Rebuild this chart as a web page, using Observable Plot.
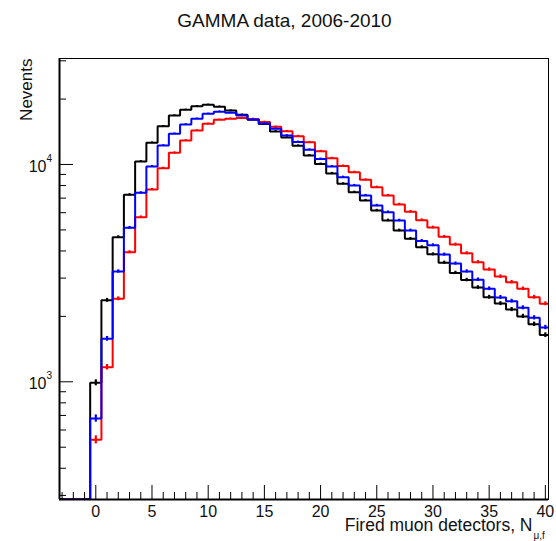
<!DOCTYPE html>
<html>
<head>
<meta charset="utf-8">
<script src="https://cdn.jsdelivr.net/npm/d3@7"></script>
<script src="https://cdn.jsdelivr.net/npm/@observablehq/plot@0.6"></script>
<style>
  html, body { margin: 0; padding: 0; background: #fff; }
  #wrap { position: relative; width: 556px; height: 541px; font-family: "Liberation Sans", Arial, sans-serif; }
  #title { position: absolute; left: 0; top: 11px; width: 569px; text-align: center; font-size: 19px; line-height: 19px; color: #111; }
  #chart { position: absolute; left: 0; top: 40px; }
  svg { overflow: visible; }
</style>
</head>
<body>
<div id="wrap">
  <div id="title">GAMMA data, 2006-2010</div>
  <div id="chart"></div>
</div>
<script>
// Bin centers (number of fired muon detectors), bins of width 1
const binCenters = [-3,-2,-1,0,1,2,3,4,5,6,7,8,9,10,11,12,13,14,15,16,17,18,19,20,21,22,23,24,25,26,27,28,29,30,31,32,33,34,35,36,37,38,39,40];

// Histogram contents (events per bin)
const blackCounts = [0,0,0,990,2370,4630,7250,10320,12590,15000,16800,17850,18550,18830,18450,17720,16930,16060,15350,14200,13300,12200,11000,10050,9100,8150,7450,6830,6140,5530,4970,4550,4160,3860,3530,3170,2940,2715,2450,2290,2150,2000,1840,1640];
const blueCounts  = [0,0,0,678,1577,3218,5113,7405,9790,12230,13840,15280,16230,17110,17500,17300,16800,16100,15450,14600,13600,12700,11700,10600,9790,8743,8007,7198,6476,6033,5525,4970,4450,4250,3850,3500,3220,2950,2680,2445,2350,2190,1970,1778];
const redCounts   = [0,0,0,541,1167,2410,3950,5723,7673,9616,11320,12896,14336,15392,16060,16230,16350,16200,15700,14900,14230,13500,12660,11510,10690,9850,9216,8502,7863,7198,6550,6060,5545,5130,4647,4282,3906,3551,3287,3051,2873,2679,2451,2286];

const seriesNames  = ["black", "red", "blue"];
const seriesCounts = [blackCounts, redCounts, blueCounts];
const seriesColors = ["#000000", "#ff0000", "#0000ff"];

// Axis tick values / labels
const xMajorTicks = [0,5,10,15,20,25,30,35,40];
const xTickLabels = ["0","5","10","15","20","25","30","35","40"];
const xMinorTicks = [-3,-2,-1,1,2,3,4,6,7,8,9,11,12,13,14,16,17,18,19,21,22,23,24,26,27,28,29,31,32,33,34,36,37,38,39];
const yMajorTicks = [1000, 10000];
const yMajorExp = ["3", "4"];
const yMinorTicks = [300,400,500,600,700,800,900,2000,3000,4000,5000,6000,7000,8000,9000,20000,30000];

const xDomain = [-3.23, 40.28];
const yDomain = [287.3, 30740];

const W = 556, H = 501;
const mL = 59, mR = 8, mT = 18, mB = 42;
const innerW = W - mL - mR, innerH = H - mT - mB;

// step outline points for a histogram
function stepPoints(counts) {
  const pts = [];
  binCenters.forEach((c, i) => {
    const v = counts[i] > 0 ? counts[i] : yDomain[0];
    pts.push({x: c - 0.5, y: v});
    pts.push({x: c + 0.5, y: v});
  });
  return pts;
}
function errPoints(counts) {
  return binCenters.map((c, i) => ({x: c, v: counts[i]})).filter(d => d.v > 0);
}

const marks = [];
seriesCounts.forEach((counts, k) => {
  marks.push(Plot.line(stepPoints(counts), {x: "x", y: "y", stroke: seriesColors[k], strokeWidth: 2, clip: true, strokeLinejoin: "miter"}));
  marks.push(Plot.ruleX(errPoints(counts), {x: "x", y1: d => d.v - Math.sqrt(d.v), y2: d => d.v + Math.sqrt(d.v), stroke: seriesColors[k], strokeWidth: 2.2, clip: true}));
});

const tickStyle = {stroke: "#000", strokeWidth: 1};
const txt = {fontFamily: "'Liberation Sans', Arial, sans-serif", fill: "#111"};

const plot = Plot.plot({
  width: W, height: H,
  marginLeft: mL, marginRight: mR, marginTop: mT, marginBottom: mB,
  x: {type: "linear", domain: xDomain, axis: null},
  y: {type: "log", domain: yDomain, axis: null},
  style: {background: "transparent", overflow: "visible"},
  marks: [
    ...marks,
    Plot.frame({stroke: "#000", strokeWidth: 1}),
    Plot.ruleX([xDomain[0]], {stroke: "#000", strokeWidth: 2}),
    Plot.ruleY([yDomain[0]], {stroke: "#000", strokeWidth: 2}),
    Plot.tickX(xMajorTicks, {x: d => d, insetTop: innerH - 14, ...tickStyle}),
    Plot.tickX(xMinorTicks, {x: d => d, insetTop: innerH - 7, ...tickStyle}),
    Plot.tickY(yMajorTicks, {y: d => d, insetRight: innerW - 14, ...tickStyle}),
    Plot.tickY(yMinorTicks, {y: d => d, insetRight: innerW - 7, ...tickStyle}),
    Plot.text(xMajorTicks, {x: d => d, text: (d, i) => xTickLabels[i], frameAnchor: "bottom", lineAnchor: "bottom", dy: 17.5, fontSize: 16, ...txt}),
    Plot.text(yMajorTicks, {y: d => d, text: () => "10", frameAnchor: "left", textAnchor: "end", lineAnchor: "middle", dx: -13, dy: 2, fontSize: 16, ...txt}),
    Plot.text(yMajorTicks, {y: d => d, text: (d, i) => yMajorExp[i], frameAnchor: "left", textAnchor: "start", lineAnchor: "middle", dx: -13, dy: -6, fontSize: 10, ...txt}),
    Plot.text(["Nevents"], {text: d => d, frameAnchor: "top-left", rotate: -90, textAnchor: "end", lineAnchor: "middle", dx: -33, dy: 0, fontSize: 17, ...txt}),
    Plot.text(["Fired muon detectors, N"], {text: d => d, frameAnchor: "bottom-right", textAnchor: "end", lineAnchor: "bottom", dx: -16, dy: 31, fontSize: 17.5, ...txt}),
    Plot.text(["\u03bc,f"], {text: d => d, frameAnchor: "bottom-right", textAnchor: "start", lineAnchor: "bottom", dx: -15, dy: 39, fontSize: 10, ...txt})
  ]
});
document.getElementById("chart").appendChild(plot);
</script>
</body>
</html>
